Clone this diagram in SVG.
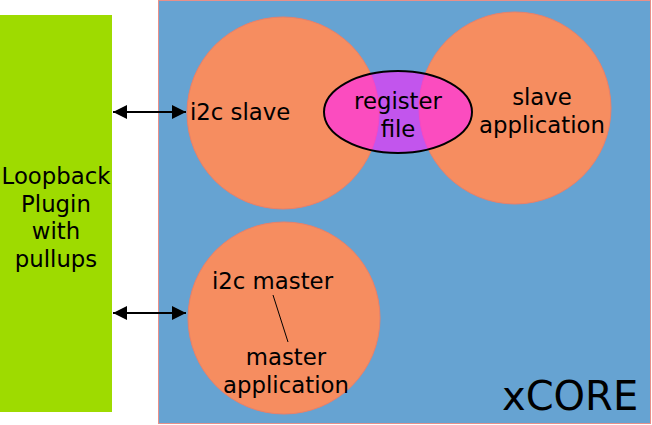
<svg xmlns="http://www.w3.org/2000/svg" width="652" height="425" viewBox="0 0 652 425">
<defs>
<style>
text{font-family:"DejaVu Sans",sans-serif;font-size:22.8px;fill:#000}
.c{text-anchor:middle}
.circ{fill:#f68d60;stroke:#e8806a;stroke-width:1}
.conn{stroke:#000;stroke-width:2;fill:none}
</style>
<marker id="ah" viewBox="0 0 10 10" refX="10" refY="5" markerWidth="15" markerHeight="14" markerUnits="userSpaceOnUse" orient="auto-start-reverse">
<path d="M0,0 L10,5 L0,10 z" fill="#000"/>
</marker>
</defs>
<g id="loopback">
<rect x="0" y="15" width="112" height="397" fill="#9edb00"/>
<text class="c" x="56" y="184">Loopback</text>
<text class="c" x="56" y="212">Plugin</text>
<text class="c" x="56" y="239">with</text>
<text class="c" x="56" y="267">pullups</text>
</g>
<g id="xcore">
<rect x="158.5" y="0.5" width="492" height="423" fill="#66a3d2" stroke="#e8908a" stroke-width="1"/>
<text x="502" y="410" style="font-size:40px">xCORE</text>
</g>
<g id="i2c-slave">
<circle class="circ" cx="283" cy="113" r="96"/>
<text x="190" y="120">i2c slave</text>
</g>
<g id="slave-application">
<circle class="circ" cx="515" cy="108" r="96"/>
<text class="c" x="542" y="105">slave</text>
<text class="c" x="542" y="133">application</text>
</g>
<g id="i2c-master">
<circle class="circ" cx="284" cy="318" r="96"/>
<text x="212" y="289">i2c master</text>
<text class="c" x="286" y="365">master</text>
<text class="c" x="286" y="393">application</text>
<line x1="273" y1="295" x2="288" y2="342" stroke="#000" stroke-width="1"/>
</g>
<g id="register-file">
<ellipse cx="398" cy="112" rx="74" ry="41" fill="#ff22ff" fill-opacity="0.6" stroke="#000" stroke-width="2"/>
<text class="c" x="398" y="109">register</text>
<text class="c" x="398" y="137">file</text>
</g>
<g id="connectors">
<line class="conn" x1="113" y1="112" x2="186" y2="112" marker-start="url(#ah)" marker-end="url(#ah)"/>
<line class="conn" x1="113" y1="313" x2="186" y2="313" marker-start="url(#ah)" marker-end="url(#ah)"/>
</g>
</svg>
